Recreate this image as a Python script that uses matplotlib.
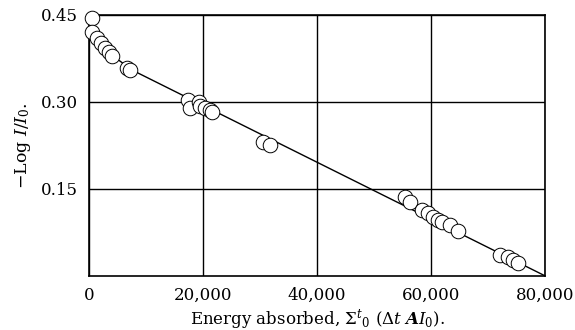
import matplotlib.pyplot as plt

energy = [500, 500, 1400, 2100, 2800, 3500, 4000, 6700, 7200,
          17400, 17700, 19200, 19500, 20300, 21200, 21600, 30500, 31800,
          55400, 56300, 58400, 59500, 60300, 61200, 61900, 63300, 64700,
          72100, 73500, 74400, 75300]
neg_log = [0.444, 0.421, 0.41, 0.402, 0.393, 0.386, 0.379, 0.359, 0.355,
           0.303, 0.29, 0.30, 0.293, 0.29, 0.286, 0.283, 0.231, 0.226,
           0.136, 0.128, 0.114, 0.109, 0.102, 0.097, 0.093, 0.088, 0.078,
           0.036, 0.032, 0.028, 0.022]

# fitted line
line_x = [0, 7500, 80000]
line_y = [0.41, 0.355, 0.0]

xticks = [0, 20000, 40000, 60000, 80000]
xtick_labels = ["0", "20,000", "40,000", "60,000", "80,000"]
yticks = [0.15, 0.30, 0.45]
ytick_labels = ["0.15", "0.30", "0.45"]

plt.rcParams['font.family'] = 'DejaVu Serif'
plt.rcParams['mathtext.fontset'] = 'dejavuserif'

fig = plt.figure(figsize=(5.75, 3.3), dpi=100)
ax = fig.add_axes([0.155, 0.164, 0.793, 0.791])

ax.plot(line_x, line_y, color='black', lw=1.0, zorder=2)
ax.plot(energy, neg_log, 'o', ms=10.5, mfc='white', mec='black', mew=0.7,
        zorder=3, clip_on=False)

ax.set_xlim(0, 80000)
ax.set_ylim(0, 0.45)
ax.set_xticks(xticks)
ax.set_xticklabels(xtick_labels)
ax.set_yticks(yticks)
ax.set_yticklabels(ytick_labels)
ax.tick_params(length=0, labelsize=12, pad=8)
ax.grid(True, color='black', lw=1.0)
ax.set_axisbelow(True)
for s in ax.spines.values():
    s.set_linewidth(1.2)

ax.set_xlabel(r"Energy absorbed, $\Sigma^t{}_0$ ($\Delta t\ \boldsymbol{A I_0}$).",
              fontsize=12, labelpad=2)
ax.set_ylabel(r"$-$Log $I/I_0$.", fontsize=12.5, labelpad=6)

plt.savefig("out.png", dpi=100)
